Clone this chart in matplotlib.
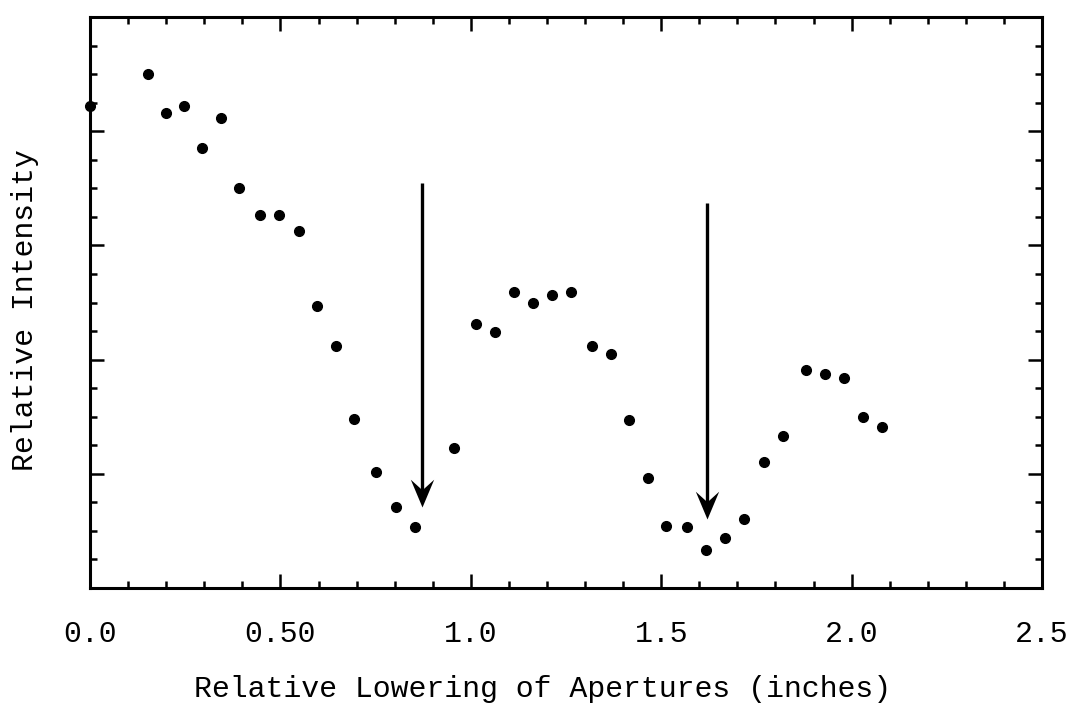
import numpy as np
import matplotlib.pyplot as plt
from matplotlib.path import Path
from matplotlib.ticker import MultipleLocator

# aperture lowering (inches) and relative intensity (arbitrary units)
lowering = [0.000, 0.152, 0.200, 0.247, 0.294, 0.344, 0.391, 0.446, 0.496, 0.549,
            0.596, 0.646, 0.693, 0.751, 0.804, 0.853, 0.956, 1.014, 1.064, 1.113,
            1.163, 1.213, 1.263, 1.318, 1.368, 1.415, 1.465, 1.513, 1.568, 1.618,
            1.668, 1.717, 1.770, 1.820, 1.880, 1.930, 1.980, 2.030, 2.080]
intensity = [4.22, 4.50, 4.16, 4.22, 3.85, 4.12, 3.50, 3.27, 3.27, 3.13,
             2.47, 2.12, 1.48, 1.02, 0.71, 0.53, 1.23, 2.31, 2.24, 2.59,
             2.50, 2.57, 2.59, 2.12, 2.05, 1.47, 0.96, 0.54, 0.53, 0.33,
             0.44, 0.60, 1.10, 1.33, 1.91, 1.87, 1.84, 1.50, 1.41]

# minima markers: x position, arrow start, arrow tip
arrow_x = [0.871, 1.621]
arrow_top = [3.55, 3.37]
arrow_tip = [0.71, 0.60]

xticks = [0.0, 0.5, 1.0, 1.5, 2.0, 2.5]
xticklabels = ["0.0", "0.50", "1.0", "1.5", "2.0", "2.5"]

plt.rcParams['font.family'] = ['Liberation Mono', 'DejaVu Sans Mono']

# barbed arrowhead, tip at the origin
head = Path([(0, 0), (-0.42, 1.0), (0, 0.62), (0.42, 1.0), (0, 0)],
            [Path.MOVETO, Path.LINETO, Path.LINETO, Path.LINETO, Path.CLOSEPOLY])

fig = plt.figure(figsize=(10.9, 7.03), dpi=100)
ax = fig.add_axes([0.0826, 0.1636, 0.8734, 0.8122])

ax.plot(lowering, intensity, 'o', color='black', ms=7, clip_on=False, zorder=5)

for x, y0, y1 in zip(arrow_x, arrow_top, arrow_tip):
    ax.plot([x, x], [y0, y1 + 0.1], color='black', lw=2.4, solid_capstyle='butt')
    ax.plot([x], [y1], marker=head, ms=40, color='black', mew=0)

ax.set_xlim(0, 2.5)
ax.set_ylim(0, 5)
ax.set_xticks(xticks)
ax.set_xticklabels(xticklabels)
ax.xaxis.set_minor_locator(MultipleLocator(0.1))
ax.yaxis.set_major_locator(MultipleLocator(1))
ax.yaxis.set_minor_locator(MultipleLocator(0.25))
ax.set_yticklabels([])

ax.tick_params(which='both', direction='in', top=True, right=True, width=1.8, color='black')
ax.tick_params(which='major', length=10)
ax.tick_params(which='minor', length=5)
ax.tick_params(axis='x', which='major', labelsize=21.5, pad=23)
for s in ax.spines.values():
    s.set_linewidth(2.2)

ax.set_xlabel("Relative Lowering of Apertures (inches)", fontsize=21.5)
ax.xaxis.set_label_coords(0.475, -0.152)
ax.set_ylabel("Relative Intensity", fontsize=21.5)
ax.yaxis.set_label_coords(-0.054, 0.486)

fig.savefig("out.png", dpi=100)
